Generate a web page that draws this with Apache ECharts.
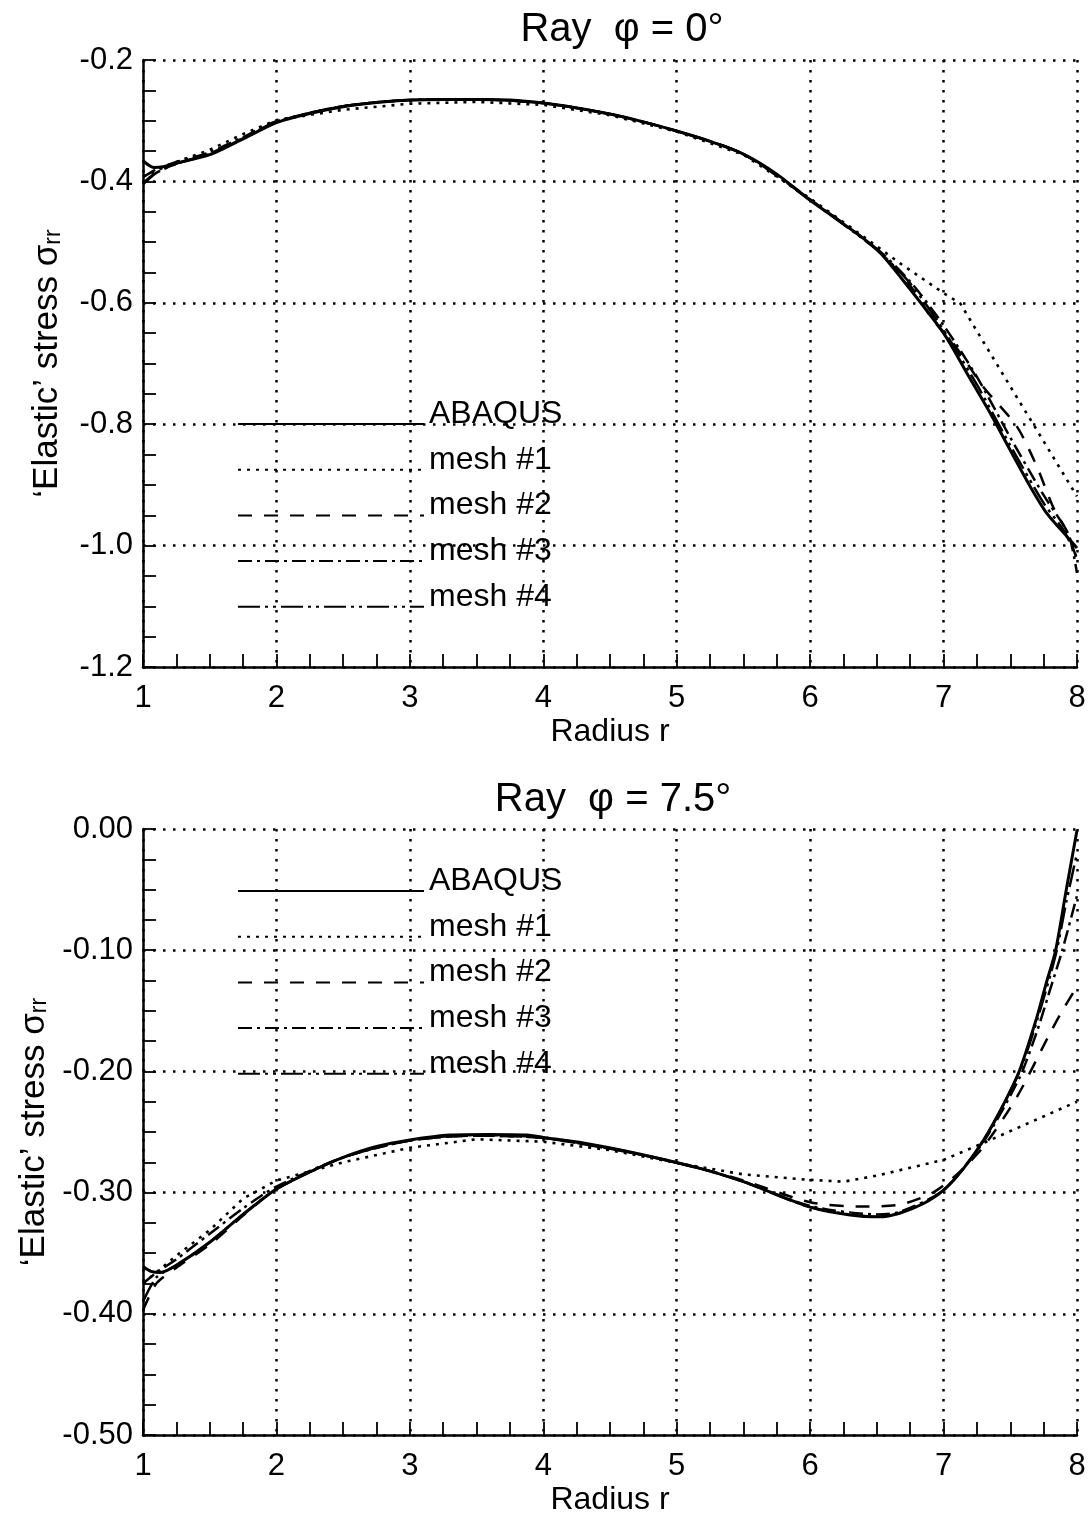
<!DOCTYPE html>
<html><head><meta charset="utf-8">
<script src="https://cdn.jsdelivr.net/npm/echarts@6/dist/echarts.min.js"></script>
<style>html,body{margin:0;padding:0;background:#fff}#c{width:1090px;height:1517px}</style>
</head><body><div id="c"></div>
<script>
// ---------- data ----------
const seriesNames = ['ABAQUS', 'mesh #1', 'mesh #2', 'mesh #3', 'mesh #4'];
const topTitle = 'Ray  φ = 0°';
const bottomTitle = 'Ray  φ = 7.5°';
const xName = 'Radius r';
const yName = '‘Elastic’ stress σ{s|rr}';

// Top panel (phi = 0)
const top_abaqus = [[1.0,-0.366],[1.08,-0.377],[1.15,-0.376],[1.25,-0.370],[1.5,-0.356],[1.75,-0.330],[2.0,-0.303],[2.25,-0.288],[2.5,-0.277],[2.75,-0.270],[3.0,-0.266],[3.25,-0.265],[3.5,-0.265],[3.75,-0.266],[4.0,-0.271],[4.25,-0.279],[4.5,-0.289],[4.75,-0.302],[5.0,-0.317],[5.25,-0.334],[5.5,-0.355],[5.75,-0.388],[6.0,-0.431],[6.25,-0.470],[6.5,-0.512],[6.675,-0.557],[7.0,-0.650],[7.175,-0.716],[7.35,-0.782],[7.5,-0.843],[7.65,-0.903],[7.774,-0.947],[7.924,-0.985],[8.0,-1.004]];
const top_mesh1 = [[1.0,-0.392],[1.25,-0.368],[1.5,-0.348],[1.75,-0.322],[2.0,-0.299],[2.5,-0.282],[3.0,-0.272],[3.5,-0.269],[4.0,-0.274],[4.5,-0.291],[5.0,-0.318],[5.5,-0.356],[6.0,-0.428],[6.3,-0.475],[6.675,-0.535],[7.0,-0.584],[7.125,-0.601],[7.3,-0.665],[7.55,-0.756],[7.7,-0.810],[8.0,-0.919]];
const top_mesh2 = [[1.0,-0.403],[1.1,-0.385],[1.25,-0.371],[1.5,-0.354],[1.75,-0.329],[2.0,-0.302],[2.5,-0.276],[3.0,-0.266],[3.5,-0.265],[4.0,-0.271],[4.5,-0.289],[5.0,-0.317],[5.5,-0.355],[6.0,-0.430],[6.5,-0.512],[6.75,-0.572],[6.92,-0.628],[7.07,-0.666],[7.3,-0.739],[7.55,-0.804],[7.7,-0.870],[7.82,-0.936],[7.93,-0.979],[8.0,-1.024]];
const top_mesh3 = [[1.0,-0.393],[1.1,-0.380],[1.25,-0.368],[1.5,-0.352],[1.75,-0.327],[2.0,-0.301],[2.5,-0.276],[3.0,-0.266],[3.5,-0.265],[4.0,-0.271],[4.5,-0.289],[5.0,-0.317],[5.5,-0.355],[6.0,-0.430],[6.5,-0.511],[6.75,-0.565],[7.0,-0.637],[7.25,-0.722],[7.5,-0.822],[7.75,-0.917],[7.9,-0.967],[7.95,-0.99],[8.0,-1.045]];
const top_mesh4 = [[1.0,-0.405],[1.1,-0.386],[1.25,-0.371],[1.5,-0.355],[1.75,-0.329],[2.0,-0.302],[2.5,-0.276],[3.0,-0.266],[3.5,-0.265],[4.0,-0.271],[4.5,-0.289],[5.0,-0.317],[5.5,-0.355],[6.0,-0.431],[6.5,-0.513],[6.75,-0.568],[7.0,-0.645],[7.25,-0.735],[7.5,-0.835],[7.75,-0.930],[7.9,-0.975],[8.0,-1.020]];

// Bottom panel (phi = 7.5)
const bot_abaqus = [[1.0,-0.361],[1.06,-0.365],[1.13,-0.366],[1.25,-0.360],[1.5,-0.341],[1.75,-0.318],[2.0,-0.297],[2.25,-0.283],[2.5,-0.271],[2.75,-0.262],[3.0,-0.2566],[3.3,-0.2525],[3.6,-0.252],[3.88,-0.2525],[4.0,-0.2545],[4.3,-0.259],[4.65,-0.2665],[5.175,-0.280],[5.5,-0.291],[6.0,-0.312],[6.3,-0.3185],[6.52,-0.320],[6.67,-0.317],[6.85,-0.309],[7.0,-0.298],[7.15,-0.280],[7.3,-0.2566],[7.45,-0.227],[7.57,-0.199],[7.70,-0.155],[7.77,-0.127],[7.84,-0.100],[7.92,-0.050],[8.0,-0.001]];
const bot_mesh1 = [[1.0,-0.375],[1.25,-0.352],[1.5,-0.331],[1.75,-0.305],[2.0,-0.290],[2.5,-0.275],[3.0,-0.263],[3.5,-0.256],[4.0,-0.258],[4.5,-0.265],[5.0,-0.2755],[5.5,-0.285],[6.0,-0.2895],[6.25,-0.291],[6.5,-0.286],[7.0,-0.273],[7.3,-0.259],[8.0,-0.225]];
const bot_mesh2 = [[1.0,-0.397],[1.1,-0.375],[1.25,-0.362],[1.5,-0.343],[1.75,-0.319],[2.0,-0.297],[2.5,-0.271],[3.0,-0.257],[3.5,-0.253],[4.0,-0.255],[4.65,-0.267],[5.175,-0.280],[5.5,-0.290],[6.0,-0.308],[6.37,-0.3115],[6.67,-0.310],[6.92,-0.300],[7.1,-0.285],[7.3,-0.262],[7.55,-0.221],[7.8,-0.168],[7.9,-0.148],[8.0,-0.130]];
const bot_mesh3 = [[1.0,-0.375],[1.1,-0.366],[1.25,-0.355],[1.5,-0.334],[1.75,-0.313],[2.0,-0.295],[2.5,-0.271],[3.0,-0.257],[3.5,-0.253],[4.0,-0.255],[4.65,-0.267],[5.175,-0.280],[5.5,-0.291],[6.0,-0.311],[6.5,-0.318],[6.67,-0.316],[7.0,-0.298],[7.3,-0.258],[7.57,-0.205],[7.70,-0.167],[7.8,-0.132],[7.89,-0.100],[8.0,-0.055]];
const bot_mesh4 = [[1.0,-0.390],[1.1,-0.370],[1.25,-0.360],[1.5,-0.341],[1.75,-0.318],[2.0,-0.297],[2.5,-0.271],[3.0,-0.257],[3.5,-0.2525],[4.0,-0.2545],[4.65,-0.2665],[5.175,-0.280],[5.5,-0.291],[6.0,-0.312],[6.5,-0.320],[6.67,-0.317],[7.0,-0.298],[7.3,-0.257],[7.57,-0.200],[7.70,-0.158],[7.84,-0.104],[7.92,-0.060],[8.0,-0.020]];

const topSeries = [top_abaqus, top_mesh1, top_mesh2, top_mesh3, top_mesh4];
const botSeries = [bot_abaqus, bot_mesh1, bot_mesh2, bot_mesh3, bot_mesh4];

// ---------- styling ----------
const FONT = 'Liberation Sans';
const lineStyles = [
  {type: 'solid', width: 3},
  {type: [3, 6], width: 2.6},
  {type: [14, 12], width: 2.5},
  {type: [14, 5, 3, 5], width: 2.5},
  {type: [22, 5, 3, 5, 3, 5], width: 2.5}
];
const smoothVals = [0.25, 0, 0.25, 0.25, 0.25];

function xAxisCfg(gridIndex) {
  return {
    type: 'value', gridIndex, min: 1, max: 8, interval: 1,
    name: xName, nameLocation: 'middle', nameGap: 49,
    nameTextStyle: {fontFamily: FONT, fontSize: 32, color: '#000'},
    axisLine: {show: true, onZero: false, lineStyle: {color: '#000', width: 2.5}},
    axisTick: {show: true, inside: true, length: 13, lineStyle: {color: '#000', width: 1.8}},
    minorTick: {show: true, splitNumber: 4, length: 13, lineStyle: {color: '#000', width: 1.8}},
    axisLabel: {fontFamily: FONT, fontSize: 31, color: '#000', margin: 16},
    splitLine: {show: true, lineStyle: {color: '#000', width: 2.5, type: [2.5, 7.5]}}
  };
}
function yAxisCfg(gridIndex, min, max, interval, digits) {
  return {
    type: 'value', gridIndex, min, max, interval,
    name: yName, nameLocation: 'middle', nameGap: 78,
    nameTextStyle: {fontFamily: FONT, fontSize: 35, color: '#000',
      rich: {s: {fontFamily: FONT, fontSize: 23, color: '#000', verticalAlign: 'bottom'}}},
    axisLine: {show: true, onZero: false, lineStyle: {color: '#000', width: 2.5}},
    axisTick: {show: true, inside: true, length: 13, lineStyle: {color: '#000', width: 1.8}},
    minorTick: {show: true, splitNumber: 4, length: 13, lineStyle: {color: '#000', width: 1.8}},
    axisLabel: {fontFamily: FONT, fontSize: 31, color: '#000', margin: 10,
      formatter: v => v.toFixed(digits)},
    splitLine: {show: true, lineStyle: {color: '#000', width: 2.5, type: [2.5, 7.5]}}
  };
}
function legendCfg(top) {
  return {
    left: 237, top, orient: 'vertical', padding: 0, itemGap: 3.7,
    itemWidth: 186, itemHeight: 14,
    data: seriesNames,
    itemStyle: {opacity: 0},
    formatter: name => '{t|' + name + '}\n{e| }',
    textStyle: {
      fontFamily: FONT, fontSize: 32, color: '#000',
      rich: {
        t: {fontFamily: FONT, fontSize: 32, color: '#000', lineHeight: 24},
        e: {fontSize: 8, lineHeight: 20}
      }
    },
    selectedMode: false
  };
}

const series = [];
[topSeries, botSeries].forEach((arr, g) => {
  arr.forEach((data, i) => {
    series.push({
      name: seriesNames[i], type: 'line', xAxisIndex: g, yAxisIndex: g,
      data, symbol: 'none', showSymbol: false, smooth: smoothVals[i],
      clip: true, z: 10 - i,
      lineStyle: Object.assign({color: '#000', cap: 'butt'}, lineStyles[i]),
      itemStyle: {color: '#000'}
    });
  });
});

const chart = echarts.init(document.getElementById('c'), null, {renderer: 'canvas'});
chart.setOption({
  backgroundColor: '#fff',
  animation: false,
  title: [
    {text: topTitle, left: 617, top: 5, textAlign: 'center',
      textStyle: {fontFamily: FONT, fontSize: 40, fontWeight: 'normal', color: '#000'}},
    {text: bottomTitle, left: 608, top: 775, textAlign: 'center',
      textStyle: {fontFamily: FONT, fontSize: 40, fontWeight: 'normal', color: '#000'}}
  ],
  grid: [
    {left: 143, top: 60, width: 934, height: 607},
    {left: 143, top: 829, width: 934, height: 606}
  ],
  xAxis: [xAxisCfg(0), xAxisCfg(1)],
  yAxis: [yAxisCfg(0, -1.2, -0.2, 0.2, 1), yAxisCfg(1, -0.5, 0, 0.1, 2)],
  legend: [legendCfg(398), legendCfg(865)],
  series
});
</script>
</body></html>
